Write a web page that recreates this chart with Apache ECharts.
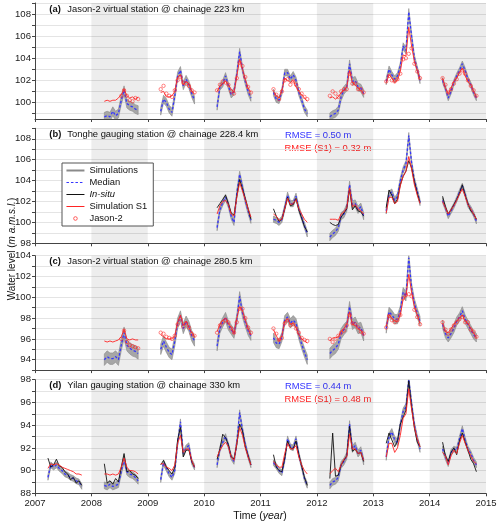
<!DOCTYPE html>
<html><head><meta charset="utf-8">
<script src="https://cdn.jsdelivr.net/npm/echarts@6/dist/echarts.min.js"></script>
<style>html,body{margin:0;padding:0;background:#fff}#c{width:500px;height:526px}</style>
</head><body><div id="c"></div>
<script>
const years = [2007,2008,2009,2010,2011,2012,2013,2014];
const seasonOffsets = [0.23,0.28,0.33,0.38,0.43,0.48,0.53,0.58,0.63,0.68,0.73,0.78,0.83];
const shadedYears = [2008,2010,2012,2014];
const xLabels = [2007,2008,2009,2010,2011,2012,2013,2014,2015];

// ---------- Panel (a) ----------
const medianA = [null,
 [98.7,98.8,98.7,99.2,98.8,99.0,100.2,101.1,99.9,99.7,99.6,99.4,99.3],
 [99.2,100.3,100.0,99.4,99.1,100.6,102.4,102.9,101.5,102.1,101.6,100.8,100.2],
 [99.6,101.4,101.7,102.4,101.5,100.7,101.0,102.6,104.6,103.0,101.9,101.0,100.4],
 [100.9,100.3,100.2,101.0,102.7,102.7,102.1,102.5,102.0,100.9,100.2,99.4,99.0],
 [98.7,98.9,99.0,99.3,100.5,101.1,101.4,103.5,101.9,102.0,101.4,101.3,100.8],
 [101.9,103.0,102.5,102.1,102.4,103.3,105.1,104.7,108.2,106.0,104.0,103.0,102.0],
 [102.0,101.3,100.4,101.0,101.8,102.4,102.9,103.5,102.9,102.1,101.6,100.9,100.4]];
const s1A = [null,
 [100.1,100.2,100.1,100.2,100.2,100.4,100.7,101.2,100.6,100.4,100.5,100.3,100.5],
 [100.9,101.0,100.5,100.5,100.6,101.0,102.3,102.5,101.6,101.9,101.7,101.0,100.8],
 [101.0,101.5,101.7,101.9,101.6,101.2,100.9,102.4,103.9,103.0,102.1,101.3,100.9],
 [101.0,100.6,100.4,101.1,102.2,102.0,101.8,102.0,101.4,101.0,100.7,100.4,100.1],
 [100.4,100.5,100.3,100.5,100.9,101.1,101.4,102.9,101.8,101.6,101.3,101.1,100.8],
 [101.8,102.5,102.2,101.8,102.0,102.8,104.3,104.2,106.8,105.1,103.7,102.9,102.1],
 [102.2,101.3,100.8,101.3,101.9,102.2,102.7,103.1,102.4,101.9,101.6,101.0,100.5]];
const jasonA = [null,
 [null,null,null,null,null,null,100.6,101.1,100.6,100.2,100.1,100.4,100.3],
 [101.2,101.5,100.8,100.6,100.5,101.1,102.0,102.3,101.8,101.7,101.5,101.1,100.9],
 [101.1,101.6,101.9,101.8,101.6,101.0,100.8,102.2,103.6,103.3,102.3,101.4,100.9],
 [101.2,100.7,100.3,101.0,102.0,102.1,101.6,101.9,101.6,101.2,100.8,100.5,100.3],
 [100.6,101.0,100.8,100.5,101.0,101.2,101.2,102.6,101.7,101.7,101.2,101.2,100.9],
 [101.9,102.4,102.0,101.9,102.1,102.6,103.9,104.0,104.4,104.9,103.5,102.8,102.2],
 [102.2,101.6,100.9,101.2,101.7,102.1,102.6,102.9,102.6,102.0,101.5,101.1,100.6]];
const spreadA = [null,0.4,0.35,0.3,0.3,0.35,0.3,0.25];
const yLabelsA = [100,102,104,106,108];
const yTicksA = [99,100,101,102,103,104,105,106,107,108,109];

// ---------- Panel (b) ----------
const medianB = [null,null,null,
 [99.5,101.2,101.9,102.4,101.7,100.6,100.0,102.8,104.6,103.4,102.1,101.1,100.2],
 [100.3,100.2,100.0,100.3,101.4,102.6,101.8,101.8,102.5,101.3,100.5,99.7,98.9],
 [98.6,98.9,99.1,99.5,100.6,100.8,101.4,103.6,101.7,101.8,101.2,101.5,100.6],
 [101.1,102.7,102.9,102.1,102.5,104.0,105.0,105.6,108.3,105.7,104.0,103.0,101.9],
 [102.1,101.4,100.6,101.1,101.6,102.2,102.9,103.5,102.7,101.7,101.3,100.8,100.1]];
const insituB = [null,null,null,
 [101.4,101.8,102.2,102.6,101.8,100.9,100.7,102.5,104.1,103.2,102.3,101.3,100.3],
 [101.3,100.6,100.1,100.3,101.3,102.4,101.6,101.7,102.3,101.2,100.4,99.6,99.1],
 [100.0,99.8,99.7,99.8,100.5,100.9,101.3,103.2,101.2,101.6,101.1,101.0,100.6],
 [101.4,103.1,102.6,101.8,102.2,103.6,104.4,104.9,105.9,105.2,103.9,102.8,101.9],
 [102.5,101.5,100.8,101.2,101.7,102.2,102.8,103.6,102.6,101.8,101.1,100.8,100.3]];
const s1B = [null,null,null,
 [100.8,101.6,102.0,102.1,101.7,100.8,100.6,102.4,103.8,103.0,102.2,101.3,100.5],
 [100.8,100.6,100.2,100.3,101.3,102.3,101.7,101.8,102.2,101.3,100.8,100.3,100.0],
 [100.3,100.3,100.3,100.2,100.8,101.0,101.4,103.3,101.5,101.7,101.3,101.1,100.8],
 [100.9,102.4,102.4,101.8,102.0,103.5,104.4,104.9,106.3,105.1,103.6,102.6,101.8],
 [102.0,101.4,100.8,101.2,101.6,102.1,102.7,103.2,102.5,101.7,101.3,100.8,100.3]];
const spreadB = [null,null,null,0.3,0.3,0.35,0.3,0.25];
const yLabelsB = [98,100,102,104,106,108];
const yTicksB = [98,99,100,101,102,103,104,105,106,107,108,109];

// ---------- Panel (c) ----------
const medianC = [null,
 [94.0,94.3,94.1,94.1,94.3,94.0,95.4,96.6,95.4,95.1,94.9,94.8,94.6],
 [95.0,95.8,95.2,94.7,94.5,95.8,97.5,98.2,97.0,97.7,97.2,96.3,95.8],
 [95.3,97.0,97.6,98.1,97.3,96.9,96.5,97.9,100.1,98.5,97.6,96.8,96.3],
 [96.1,95.6,95.5,96.2,97.8,98.1,97.5,97.8,97.5,96.4,95.5,94.7,94.0],
 [94.6,94.9,95.1,95.5,96.5,96.9,97.2,99.1,97.4,97.6,97.0,97.1,96.3],
 [97.0,98.6,98.3,97.9,97.9,98.7,100.5,100.1,103.8,100.9,99.4,98.5,97.7],
 [97.4,96.5,96.1,96.5,97.0,97.7,98.1,98.7,97.9,97.4,96.9,96.4,96.1]];
const s1C = [null,
 [95.8,95.7,95.8,95.7,95.8,95.9,96.2,96.9,96.0,95.9,96.0,95.9,95.9],
 [96.4,96.2,96.0,96.0,96.0,96.3,97.6,98.3,97.3,97.7,97.1,96.6,96.2],
 [96.7,97.4,97.8,98.0,97.5,97.1,96.5,98.0,99.1,98.7,97.8,97.0,96.4],
 [96.9,96.3,95.8,96.3,97.7,97.9,97.4,97.5,97.1,96.4,96.0,95.8,95.6],
 [95.8,96.1,96.1,96.2,96.7,97.0,97.4,98.6,97.4,97.3,97.0,96.8,96.4],
 [97.2,98.3,98.0,97.7,97.7,98.3,99.8,100.1,102.2,100.5,99.1,98.3,97.5],
 [97.5,96.7,96.6,97.0,97.4,97.7,98.0,98.3,97.7,97.5,97.0,96.6,96.1]];
const jasonC = [null,
 [null,null,null,null,null,null,96.0,96.8,95.7,95.4,95.3,95.2,95.1],
 [96.6,96.5,96.2,96.1,96.0,96.3,97.4,97.9,97.2,97.5,97.1,96.5,96.3],
 [96.6,97.3,97.6,97.8,97.6,97.0,96.6,97.6,98.9,98.9,98.0,97.1,96.6],
 [97.0,96.5,95.9,96.1,97.5,97.8,97.3,97.4,97.0,96.6,96.1,95.9,95.8],
 [96.0,95.7,96.0,96.3,96.6,96.8,97.3,98.3,97.5,97.4,97.1,96.7,96.5],
 [97.1,98.2,97.8,97.6,97.8,98.3,99.9,100.2,100.3,100.1,98.8,98.1,97.4],
 [97.6,96.9,96.5,96.9,97.3,97.6,97.9,98.1,97.6,97.6,96.9,96.7,96.2]];
const spreadC = [null,0.55,0.5,0.45,0.45,0.5,0.45,0.4];
const yLabelsC = [94,96,98,100,102,104];
const yTicksC = [93,94,95,96,97,98,99,100,101,102,103,104];

// ---------- Panel (d) ----------
const medianD = [
 [89.4,90.5,90.3,90.5,90.2,90.0,89.7,89.6,89.4,89.3,89.1,89.0,88.6],
 [88.7,88.6,88.8,88.6,88.7,88.8,89.9,91.0,89.9,89.7,89.6,89.4,89.1],
 [89.2,90.7,90.2,89.7,89.4,90.0,92.4,94.3,91.5,92.0,92.2,90.8,90.3],
 [90.5,91.9,92.5,93.0,92.2,91.2,90.8,92.5,95.1,93.6,92.3,91.3,90.5],
 [90.7,90.4,90.0,89.8,91.0,92.8,92.1,92.0,92.8,91.4,90.4,89.3,88.7],
 [88.7,89.0,89.1,89.4,90.5,90.8,91.3,94.1,91.9,92.2,91.5,91.8,90.8],
 [91.2,93.0,93.4,92.7,92.5,94.0,95.2,95.6,98.0,95.9,94.0,92.8,91.9],
 [91.9,91.2,90.6,91.6,91.9,91.8,92.8,93.7,92.7,91.9,91.5,90.9,90.5]];
const insituD = [
 [91.1,90.3,90.5,91.0,90.4,90.3,89.9,89.7,89.2,89.4,88.9,89.1,88.7],
 [90.6,88.9,89.1,88.8,89.3,89.0,90.3,91.5,89.9,90.0,89.7,89.6,89.3],
 [90.5,90.9,90.3,90.0,89.7,90.3,92.7,93.8,91.2,91.8,91.8,90.8,90.3],
 [91.0,91.9,93.2,92.9,92.3,91.2,91.0,92.3,94.1,93.5,92.1,91.3,90.5],
 [91.4,90.3,90.0,89.9,91.1,92.6,92.0,91.9,92.6,91.4,90.4,89.4,88.7],
 [89.3,93.3,89.5,89.6,90.5,90.9,91.3,93.9,91.7,91.9,91.5,91.6,90.8],
 [92.4,93.3,92.7,92.1,92.6,94.1,94.7,95.3,97.9,95.6,93.8,92.5,92.1],
 [92.5,91.3,90.8,91.6,92.0,91.4,92.6,93.3,92.5,91.8,91.0,90.6,89.9]];
const s1D = [
 [90.2,90.6,90.5,90.6,90.5,90.3,90.2,90.1,90.0,89.9,89.7,89.7,89.6],
 [89.7,89.7,89.6,89.7,89.6,89.7,90.3,91.1,90.3,90.0,90.0,89.9,89.7],
 [90.6,90.6,90.3,90.2,90.0,90.5,92.4,93.1,91.6,91.9,91.9,90.9,90.3],
 [91.2,91.8,92.2,92.5,92.1,91.2,90.9,92.4,93.8,93.1,92.0,91.2,90.5],
 [90.8,90.5,90.3,90.3,91.5,92.4,91.9,91.9,92.2,91.2,90.5,90.0,89.7],
 [89.7,90.0,90.2,89.9,90.5,91.0,91.2,93.2,91.9,91.9,91.5,91.6,90.9],
 [91.2,92.4,92.4,91.6,92.0,93.1,94.6,95.0,97.2,95.4,93.8,92.8,92.1],
 [91.6,91.3,90.5,91.3,91.8,91.5,92.4,93.1,92.4,91.8,91.3,90.8,90.6]];
const spreadD = [0.25,0.3,0.25,0.25,0.25,0.3,0.3,0.25];
const yLabelsD = [88,90,92,94,96,98];
const yTicksD = [88,89,90,91,92,93,94,95,96,97,98];

const titles = [
  ['(a)','Jason-2 virtual station @ chainage 223 km'],
  ['(b)','Tonghe gauging station @ chainage 228.4 km'],
  ['(c)','Jason-2 virtual station @ chainage 280.5 km'],
  ['(d)','Yilan gauging station @ chainage 330 km']];
const rmseB = ['RMSE = 0.50 m','RMSE (S1) = 0.32 m'];
const rmseD = ['RMSE = 0.44 m','RMSE (S1) = 0.48 m'];

// ---------- build ----------
const FF = "'Liberation Sans', Arial, sans-serif";
const BLUE = '#3535ff', RED = '#ff2424';
const panels = [
  {median:medianA, s1:s1A, obs:jasonA, obsKind:'jason', spread:spreadA, min:98.5, max:109, labels:yLabelsA, ticks:yTicksA, top:3, height:116},
  {median:medianB, s1:s1B, obs:insituB, obsKind:'insitu', spread:spreadB, min:98, max:109, labels:yLabelsB, ticks:yTicksB, top:128.3, height:115},
  {median:medianC, s1:s1C, obs:jasonC, obsKind:'jason', spread:spreadC, min:93, max:104, labels:yLabelsC, ticks:yTicksC, top:255.7, height:114.4},
  {median:medianD, s1:s1D, obs:insituD, obsKind:'insitu', spread:spreadD, min:88, max:98, labels:yLabelsD, ticks:yTicksD, top:379.7, height:113.6}];

function toLine(rows){
  const out=[];
  rows.forEach((row,i)=>{
    if(!row) return;
    row.forEach((v,j)=>out.push([years[i]+seasonOffsets[j], v==null?null:v]));
    out.push([years[i]+0.95, null]);
  });
  return out;
}
function toPoints(rows){
  const out=[];
  rows.forEach((row,i)=>{ if(!row) return; row.forEach((v,j)=>{ if(v!=null) out.push([years[i]+seasonOffsets[j], v]); }); });
  return out;
}

const grids=[], xAxes=[], yAxes=[], series=[];
panels.forEach((p,gi)=>{
  grids.push({left:35, right:14, top:p.top, height:p.height});
  xAxes.push({type:'value', gridIndex:gi, min:2007, max:2015, interval:1,
    axisLine:{show:true, onZero:false, lineStyle:{color:'#444', width:1}},
    axisTick:{show:true, length:3, lineStyle:{color:'#444'}},
    axisLabel:{show:gi===3, showMinLabel:true, showMaxLabel:true, fontSize:9.5, color:'#222', fontFamily:FF, margin:5,
      formatter:v=>String(Math.round(v))},
    splitLine:{show:false}});
  yAxes.push({type:'value', gridIndex:gi, min:p.min, max:p.max, interval:0.5,
    axisLine:{show:true, lineStyle:{color:'#444', width:1}},
    axisTick:{show:true, length:3, customValues:p.ticks, lineStyle:{color:'#444'}},
    axisLabel:{customValues:p.labels, fontSize:9.6, color:'#222', fontFamily:FF, margin:4},
    splitLine:{show:true, lineStyle:{color:'#e4e4e4', width:1}}});
  series.push({type:'line', xAxisIndex:gi, yAxisIndex:gi, data:[[2007,null]], silent:true, z:0.5,
    markArea:{silent:true, itemStyle:{color:'rgba(0,0,0,0.07)'}, data:shadedYears.map(y=>[{xAxis:y},{xAxis:y+1}])}});
  const segs=[]; p.median.forEach((r,i)=>{ if(r) segs.push(i); });
  series.push({type:'custom', name:'SimBand', xAxisIndex:gi, yAxisIndex:gi, z:1, silent:true,
    data:segs.map(i=>[years[i]+0.5, p.median[i][6]]),
    renderItem:(params, api)=>{
      const i=segs[params.dataIndex], row=p.median[i], s=p.spread[i];
      const up=[], lo=[];
      row.forEach((v,j)=>{ const t=years[i]+seasonOffsets[j]; up.push(api.coord([t,v+s])); lo.push(api.coord([t,v-s])); });
      const cs=params.coordSys;
      return {type:'polygon', shape:{points:up.concat(lo.reverse())},
        style:{fill:'#a6a6a6', stroke:'#8a8a8a', lineWidth:0.6},
        clipPath:{type:'rect', shape:{x:cs.x, y:cs.y, width:cs.width, height:cs.height}}};
    }});
  series.push({type:'line', name:'Median', xAxisIndex:gi, yAxisIndex:gi, z:2, symbol:'none', data:toLine(p.median),
    lineStyle:{color:BLUE, width:1.3, type:[2.5,2]}, itemStyle:{color:BLUE}});
  if(p.obsKind==='insitu'){
    series.push({type:'line', name:'In-situ', xAxisIndex:gi, yAxisIndex:gi, z:3, symbol:'none', data:toLine(p.obs),
      lineStyle:{color:'#111', width:0.9}, itemStyle:{color:'#111'}});
  }
  series.push({type:'line', name:'Simulation S1', xAxisIndex:gi, yAxisIndex:gi, z:4, symbol:'none', data:toLine(p.s1),
    lineStyle:{color:RED, width:0.9}, itemStyle:{color:RED}});
  if(p.obsKind==='jason'){
    series.push({type:'scatter', name:'Jason-2', xAxisIndex:gi, yAxisIndex:gi, z:5, symbol:'circle', symbolSize:3.4,
      data:toPoints(p.obs), itemStyle:{color:'rgba(0,0,0,0)', borderColor:RED, borderWidth:0.7}});
  }
});
series.push({type:'line', name:'Simulations', xAxisIndex:1, yAxisIndex:1, data:[], symbol:'none',
  lineStyle:{color:'#8a8a8a', width:2}, itemStyle:{color:'#8a8a8a'}});

const graphic=[];
const titleTops=[11,135.7,262.7,386.7];
titles.forEach((t,i)=>{
  graphic.push({type:'text', left:49.3, top:titleTops[i]-6, silent:true,
    style:{text:'{b|'+t[0]+'}{n|'+t[1]+'}', rich:{b:{fontWeight:'bold', fontSize:9.4, fontFamily:FF, fill:'#111', width:18},
      n:{fontSize:9.4, fontFamily:FF, fill:'#111'}}}});
});
[[rmseB,136.5],[rmseD,388]].forEach(([r,y])=>{
  graphic.push({type:'text', left:285, top:y-6, silent:true, style:{text:r[0], fontSize:9.4, fontFamily:FF, fill:BLUE}});
  graphic.push({type:'text', left:284.5, top:y+13.3-6, silent:true, style:{text:r[1], fontSize:9.4, fontFamily:FF, fill:RED}});
});
graphic.push({type:'text', x:12, y:249, rotation:Math.PI/2, silent:true,
  style:{text:'{n|Water level (}{i|m a.m.s.l.}{n|)}', align:'center', verticalAlign:'middle',
    rich:{n:{fontSize:10, fontFamily:FF, fill:'#111'}, i:{fontSize:10, fontFamily:FF, fill:'#111', fontStyle:'italic'}}}});
graphic.push({type:'text', x:260, y:516, silent:true,
  style:{text:'{n|Time (}{i|year}{n|)}', align:'center', verticalAlign:'middle',
    rich:{n:{fontSize:10.5, fontFamily:FF, fill:'#111'}, i:{fontSize:10.5, fontFamily:FF, fill:'#111', fontStyle:'italic'}}}});

const BOX = 'M0,0M18,8';
const lineIcon = 'path://'+BOX+'M0,3.5L18,3.5L18,4.5L0,4.5Z';
const thickIcon = 'path://'+BOX+'M0,3L18,3L18,5L0,5Z';
const dashIcon = 'path://'+BOX+'M0,3.4L2.5,3.4L2.5,4.6L0,4.6Z M4.5,3.4L7,3.4L7,4.6L4.5,4.6Z M9,3.4L11.5,3.4L11.5,4.6L9,4.6Z M13.5,3.4L16,3.4L16,4.6L13.5,4.6Z';
const circIcon = 'path://'+BOX+'M7.2,4a1.8,1.8 0 1,0 3.6,0a1.8,1.8 0 1,0 -3.6,0';

const chart = echarts.init(document.getElementById('c'), null, {renderer:'canvas'});
chart.setOption({
  animation:false,
  backgroundColor:'#fff',
  textStyle:{fontFamily:FF},
  grid:grids, xAxis:xAxes, yAxis:yAxes, series:series, graphic:graphic,
  legend:{
    data:[
      {name:'Simulations', icon:thickIcon, itemStyle:{color:'#8a8a8a', borderWidth:0}},
      {name:'Median', icon:dashIcon, itemStyle:{color:BLUE, borderWidth:0}},
      {name:'In-situ', icon:lineIcon, itemStyle:{color:'#111', borderWidth:0}},
      {name:'Simulation S1', icon:lineIcon, itemStyle:{color:RED, borderWidth:0}},
      {name:'Jason-2', icon:circIcon, itemStyle:{borderWidth:0.9, borderColor:RED, color:'rgba(0,0,0,0)'}}],
    orient:'vertical', left:62, top:163, itemWidth:18, itemHeight:8, itemGap:3,
    padding:[3,6,3,4], borderColor:'#555', borderWidth:1, backgroundColor:'#fff', selectedMode:false,
    textStyle:{fontSize:9.4, color:'#111', fontFamily:FF, rich:{i:{fontStyle:'italic', fontSize:9.4, fontFamily:FF, color:'#111'}}},
    formatter:n=>n==='In-situ'?'{i|In-situ}':n
  }
});
</script></body></html>
